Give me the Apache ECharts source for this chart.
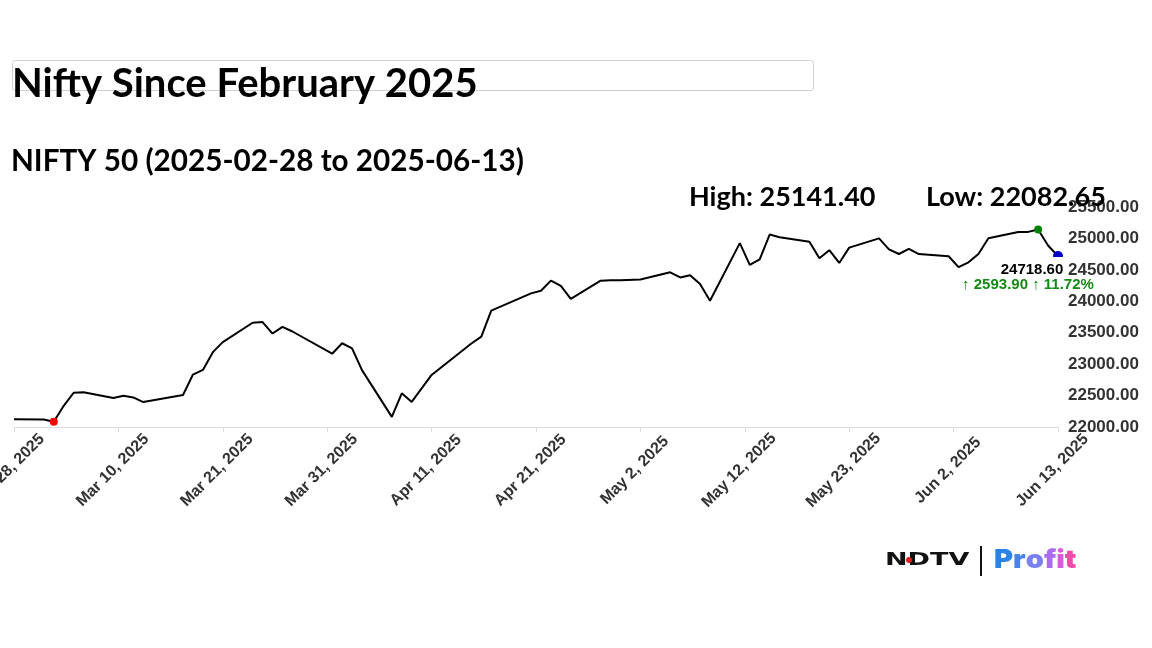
<!DOCTYPE html>
<html><head><meta charset="utf-8">
<script src="https://cdn.jsdelivr.net/npm/echarts@6/dist/echarts.min.js"></script>
<style>html,body{margin:0;padding:0;background:#fff}#c{width:1152px;height:648px}</style>
</head><body><div id="c"></div>
<script>
const titleText = 'Nifty Since February 2025';
const subtitleText = 'NIFTY 50 (2025-02-28 to 2025-06-13)';
const startDate = '2025-02-28';
const dates = ['2025-02-28','2025-03-03','2025-03-04','2025-03-05','2025-03-06','2025-03-07','2025-03-10','2025-03-11','2025-03-12','2025-03-13','2025-03-17','2025-03-18','2025-03-19','2025-03-20','2025-03-21','2025-03-24','2025-03-25','2025-03-26','2025-03-27','2025-03-28','2025-04-01','2025-04-02','2025-04-03','2025-04-04','2025-04-07','2025-04-08','2025-04-09','2025-04-11','2025-04-15','2025-04-16','2025-04-17','2025-04-21','2025-04-22','2025-04-23','2025-04-24','2025-04-25','2025-04-28','2025-04-29','2025-04-30','2025-05-02','2025-05-05','2025-05-06','2025-05-07','2025-05-08','2025-05-09','2025-05-12','2025-05-13','2025-05-14','2025-05-15','2025-05-16','2025-05-19','2025-05-20','2025-05-21','2025-05-22','2025-05-23','2025-05-26','2025-05-27','2025-05-28','2025-05-29','2025-05-30','2025-06-02','2025-06-03','2025-06-04','2025-06-05','2025-06-06','2025-06-09','2025-06-10','2025-06-11','2025-06-12','2025-06-13'];
const closes = [22124.70,22119.30,22082.65,22337.30,22544.70,22552.50,22460.30,22497.90,22470.50,22397.20,22508.75,22834.30,22907.60,23190.65,23350.40,23658.35,23668.65,23486.85,23591.95,23519.35,23165.70,23332.35,23250.10,22904.45,22161.60,22535.85,22399.15,22828.55,23328.55,23437.20,23851.65,24125.55,24167.25,24328.95,24246.70,24039.35,24328.50,24335.95,24334.20,24346.70,24461.15,24379.60,24414.40,24273.80,24008.00,24924.70,24578.35,24666.90,25062.10,25019.80,24945.45,24683.90,24813.45,24609.70,24853.15,25001.15,24826.20,24752.45,24833.60,24750.70,24716.60,24542.50,24620.20,24750.90,25003.05,25103.20,25104.25,25141.40,24888.20,24718.60];
const xTickLabels = ['Feb 28, 2025','Mar 10, 2025','Mar 21, 2025','Mar 31, 2025','Apr 11, 2025','Apr 21, 2025','May 2, 2025','May 12, 2025','May 23, 2025','Jun 2, 2025','Jun 13, 2025'];
const yMin = 22000, yMax = 25500, yStep = 500;
const xStep = 10.5, xMax = 105;

function dayOffset(s){
  const p = s.split('-').map(Number), q = startDate.split('-').map(Number);
  return (Date.UTC(p[0],p[1]-1,p[2]) - Date.UTC(q[0],q[1]-1,q[2]))/86400000;
}
const pts = dates.map((d,i)=>[dayOffset(d), closes[i]]);
let hiI=0, loI=0;
closes.forEach((v,i)=>{ if(v>closes[hiI]) hiI=i; if(v<closes[loI]) loI=i; });
const lastI = closes.length-1;
const chg = closes[lastI]-closes[0];
const pct = chg/closes[0]*100;

const chart = echarts.init(document.getElementById('c'));
const AF = 'Liberation Sans, Arial';
chart.setOption({
  animation:false,
  backgroundColor:'#fff',
  grid:{left:14, right:94, top:207, bottom:221, containLabel:false, outerBoundsMode:'none'},
  xAxis:{type:'value', min:0, max:xMax, interval:xStep,
    axisLine:{show:true, lineStyle:{color:'#dcdcdc', width:1}},
    axisTick:{show:true, length:5, lineStyle:{color:'#dcdcdc'}},
    splitLine:{show:false},
    axisLabel:{rotate:45, align:'center', verticalAlign:'bottom', margin:49, hideOverlap:false,
      fontFamily:AF, fontWeight:'bold', fontSize:16, color:'#333',
      formatter:v=>xTickLabels[Math.round(v/xStep)]||''}
  },
  yAxis:{type:'value', position:'right', min:yMin, max:yMax, interval:yStep,
    axisLine:{show:false}, axisTick:{show:false}, splitLine:{show:false},
    axisLabel:{margin:10, fontFamily:AF, fontWeight:'bold', fontSize:17, color:'#333',
      formatter:v=>v.toFixed(2)}
  },
  series:[
    {type:'line', data:pts, symbol:'none', lineStyle:{color:'#000', width:2}, z:2},
    {type:'scatter', data:[pts[loI]], symbolSize:8, itemStyle:{color:'#ff0000', opacity:1}, z:3},
    {type:'scatter', data:[pts[hiI]], symbolSize:8, itemStyle:{color:'#008000', opacity:1}, z:3},
    {type:'scatter', data:[pts[lastI]], symbolSize:10, itemStyle:{color:'#0000cc', opacity:1}, z:3,
      label:{show:true, position:[-21,6], align:'center', verticalAlign:'top',
        backgroundColor:'#fff', padding:[5,2,2,2], lineHeight:16,
        fontFamily:AF, fontWeight:'bold', fontSize:15, color:'#000',
        formatter:()=>closes[lastI].toFixed(2)}},
    {type:'scatter', data:[pts[lastI]], symbolSize:10, itemStyle:{color:'rgba(0,0,0,0)', opacity:1}, z:4, silent:true,
      label:{show:true, position:[-25,26], align:'center', verticalAlign:'top', lineHeight:16,
        fontFamily:AF, fontWeight:'bold', fontSize:15, color:'#138a13',
        formatter:()=>'\u2191 '+chg.toFixed(2)+' \u2191 '+pct.toFixed(2)+'%'}}
  ],
  graphic:[
    {type:'rect', shape:{x:12.5,y:60.5,width:801,height:30,r:3}, style:{fill:'none', stroke:'#cfcfcf', lineWidth:1}, z:1},
    {type:'text', x:12, y:84.5, style:{text:titleText, font:'bold 40px Lato', fill:'#000', verticalAlign:'middle'}, z:5},
    {type:'text', x:11, y:161, style:{text:subtitleText, font:'bold 29.7px Lato', fill:'#000', verticalAlign:'middle'}, z:5},
    {type:'text', x:689, y:197, style:{text:'High: '+closes[hiI].toFixed(2), font:'bold 27px Lato', fill:'#000', verticalAlign:'middle'}, z:5},
    {type:'text', x:926, y:197, style:{text:'Low: '+closes[loI].toFixed(2), font:'bold 27px Lato', fill:'#000', verticalAlign:'middle'}, z:5},
    {type:'text', x:885, y:560, scaleX:1.5, style:{text:'NDTV', font:'bold 18px DejaVu Sans', fill:'#111', verticalAlign:'middle'}, z:5},
    {type:'circle', shape:{cx:909, cy:560, r:3}, style:{fill:'#e02020'}, z:6},
    {type:'line', shape:{x1:981,y1:546,x2:981,y2:576}, style:{stroke:'#111', lineWidth:2}, z:5},
    {type:'text', x:994, y:560, scaleX:1.12, style:{
      text:'{p|P}{r|r}{o|o}{f|f}{i|i}{t|t}', verticalAlign:'middle',
      rich:{p:{fill:'#2a84e6',font:'900 26px Inter'}, r:{fill:'#4a82ea',font:'900 26px Inter'}, o:{fill:'#7a80f2',font:'900 26px Inter'},
            f:{fill:'#aa6cf0',font:'900 26px Inter'}, i:{fill:'#dc58dc',font:'900 26px Inter'}, t:{fill:'#f24aa8',font:'900 26px Inter'}}}, z:5}
  ]
});
</script></body></html>
